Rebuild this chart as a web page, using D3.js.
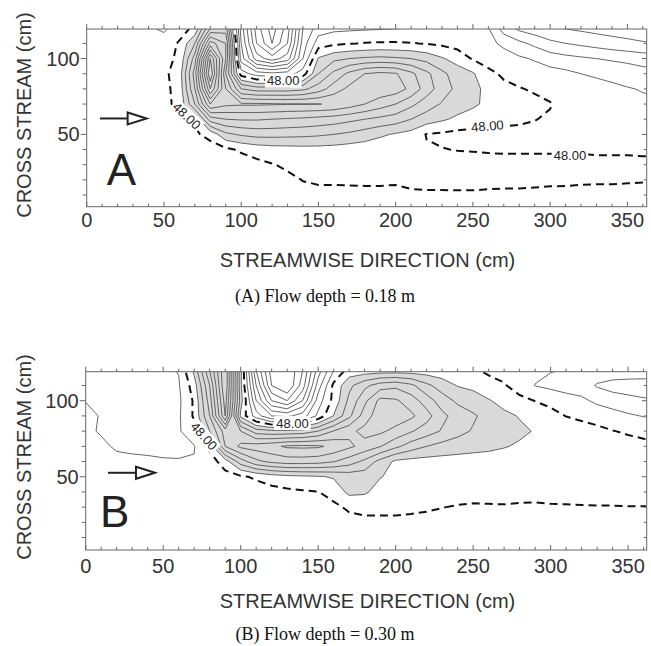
<!DOCTYPE html>
<html>
<head>
  <title>Streamwise contours</title>
  <meta charset="utf8">
  <style type="text/css">
    body { margin: 0; background: #fff; }
    svg { display: block; font-family: "Liberation Sans", Arial, sans-serif; }
    .title { font-size: 20px; fill: #333; }
    .tick-label { font-size: 20px; fill: #333; }
    .caption { font-family: "Liberation Serif", "Times New Roman", serif; font-size: 18px; fill: #111; }
    .shade { fill: #d9d9d9; stroke: none; }
    .iso { fill: none; stroke: #555; stroke-width: 0.9; }
    .iso-dash { fill: none; stroke: #111; stroke-width: 2; stroke-dasharray: 8 5; }
    .lbl { font-size: 13px; fill: #222; }
    .axis line { stroke: #666; }
    .frame { fill: none; stroke: #666; stroke-width: 1; }
    .letter { font-size: 44px; fill: #222; }
  </style>
</head>
<body>

<script src="https://d3js.org/d3.v7.min.js"></script>

<script type="text/javascript">

// sample grid: streamwise positions (cm) and cross-stream rows (cm, top row first)
var xCm = [0, 10, 20, 30, 40, 50, 60, 70, 80, 90, 100, 110, 120, 130, 140, 150, 160, 170, 180,
           190, 200, 210, 220, 230, 240, 250, 260, 270, 280, 290, 300, 310, 320, 330, 340, 350, 360, 370]
var yCm = [120, 110, 100, 90, 80, 70, 60, 50, 40, 30, 20, 10, 0]

var levels = [30, 32, 34, 36, 38, 40, 42, 44, 46, 48, 50, 52, 54, 56, 58, 60, 62, 64, 66, 68, 70]
var dashedLevel = 48
var shadeLevel = 50

var xTicks = [0, 50, 100, 150, 200, 250, 300, 350]
var yTicks = [50, 100]

// (A) flow depth 0.18 m, rows y = 120 ... 0
var gridA = [
  [47, 47, 47, 46.8, 46.3, 45.6, 47.2, 48.4, 56, 57, 41, 33, 29, 33, 42, 45, 45.5, 45.6, 45.7, 45.8, 45.9, 46.05, 46.4, 46.6, 46.5, 46.3, 46.1, 43, 41.5, 40.8, 40.2, 39.9, 39.6, 39.3, 39.1, 38.9, 38.7, 38.5],
  [47.2, 47.2, 47.2, 47.2, 47.1, 47.0, 48.2, 52, 63, 60, 42, 34, 30, 34, 43, 47, 47.6, 47.9, 48.1, 48.2, 48.2, 48.1, 47.9, 47.6, 47.2, 46.9, 46.5, 45.6, 44.5, 43.5, 42.5, 42, 41.6, 41.2, 40.8, 40.5, 40.2, 40],
  [47.3, 47.3, 47.3, 47.3, 47.3, 47.5, 48.3, 55, 70, 60, 43, 37, 35, 37, 44, 50.2, 51.5, 52, 52.3, 52.5, 52.3, 52, 51.3, 50.2, 49.2, 47.8, 47, 46.8, 46.3, 45.8, 45, 44.6, 44.3, 44, 43.7, 43.4, 43.1, 43],
  [47.4, 47.4, 47.4, 47.4, 47.4, 47.6, 48.9, 57, 72, 58, 47, 45, 44.5, 45, 47, 52, 54.5, 56.5, 58, 58.5, 58.2, 56.5, 54.5, 52.5, 51, 50.2, 48.6, 47.6, 47.3, 47, 46.8, 46.5, 46.0, 45.8, 45.6, 45.3, 44.8, 44.6],
  [47.5, 47.5, 47.5, 47.5, 47.5, 47.5, 48.7, 56, 68, 60, 54, 53, 53, 53, 53.5, 55, 57, 58.5, 59.2, 59.3, 59, 57.5, 55, 53, 51.5, 50.5, 49.5, 48.6, 48.1, 47.8, 47.4, 47.1, 46.8, 46.5, 46.3, 46.1, 45.9, 45.8],
  [47.5, 47.5, 47.5, 47.5, 47.5, 47.6, 48.4, 54, 62, 60.5, 60.3, 60.3, 60.2, 60.1, 60.1, 60.05, 59.8, 59, 58, 57, 56, 54.5, 53, 51.8, 51, 50.3, 49.6, 48.6, 48.3, 48.4, 48.1, 47.3, 47, 46.8, 46.6, 46.4, 46.3, 46.2],
  [47.4, 47.4, 47.4, 47.4, 47.4, 47.5, 47.5, 48.3, 55, 56, 56.2, 56.2, 56, 55.8, 55.6, 55.3, 55, 54.5, 54, 53.5, 53, 52, 51, 50.3, 49.6, 49.2, 48.9, 48.5, 48.3, 48.05, 47.8, 47.6, 47.4, 47.2, 47, 46.8, 46.6, 46.5],
  [47.3, 47.3, 47.3, 47.3, 47.3, 47.3, 47.4, 47.7, 48.6, 51.5, 52.3, 52.7, 52.7, 52.6, 52.5, 52.3, 52, 51.6, 51, 50.3, 49.8, 49.3, 47.9, 47.7, 47.4, 47.3, 47.3, 47.4, 47.5, 47.6, 47.6, 47.5, 47.4, 47.3, 47.2, 47.1, 47, 47],
  [47.2, 47.2, 47.2, 47.2, 47.2, 47.2, 47.2, 47.2, 47.2, 47.6, 48.3, 48.8, 49.1, 49.2, 49.3, 49.3, 49.2, 49, 48.9, 48.8, 48.6, 48.5, 48.2, 48.05, 47.95, 47.9, 47.85, 47.8, 47.8, 47.8, 47.8, 47.8, 47.8, 47.7, 47.7, 47.7, 47.6, 47.6],
  [47, 47, 47, 47, 47, 47, 47, 47, 47, 47, 47, 47.5, 47.9, 48.3, 48.6, 48.7, 48.6, 48.6, 48.6, 48.6, 48.6, 48.6, 48.6, 48.6, 48.6, 48.6, 48.5, 48.5, 48.5, 48.5, 48.5, 48.5, 48.5, 48.5, 48.5, 48.5, 48.5, 48.5],
  [46.8, 46.8, 46.8, 46.8, 46.8, 46.8, 46.8, 46.8, 46.8, 46.8, 46.8, 46.8, 46.8, 47.6, 48.05, 48.2, 48.2, 48.2, 48.2, 48.2, 48.15, 48.3, 48.4, 48.4, 48.45, 48.45, 48.4, 48.4, 48.4, 48.35, 48.3, 48.3, 48.25, 48.2, 48.2, 48.15, 48.1, 48.1],
  [46.8, 46.8, 46.8, 46.8, 46.8, 46.8, 46.8, 46.8, 46.8, 46.8, 46.8, 46.8, 46.8, 47.2, 47.5, 47.6, 47.6, 47.65, 47.7, 47.7, 47.7, 47.8, 47.8, 47.8, 47.8, 47.8, 47.75, 47.7, 47.7, 47.65, 47.6, 47.55, 47.5, 47.5, 47.5, 47.5, 47.5, 47.5],
  [46.8, 46.8, 46.8, 46.8, 46.8, 46.8, 46.8, 46.8, 46.8, 46.8, 46.8, 46.8, 46.8, 46.8, 46.8, 46.8, 46.8, 46.8, 46.8, 46.8, 46.8, 46.8, 46.8, 46.8, 46.8, 46.8, 46.8, 46.8, 46.8, 46.8, 46.8, 46.8, 46.8, 46.8, 46.8, 46.8, 46.8, 46.8]
]

// (B) flow depth 0.30 m, rows y = 120 ... 0
var gridB = [
  [45.5, 45.5, 45.5, 45.5, 45.5, 45.6, 46.1, 50.5, 58, 66, 50.5, 38, 31, 30, 34, 41, 46, 48.8, 48.8, 48.9, 48.9, 48.9, 48.9, 48.8, 48.6, 48.3, 47.6, 47.2, 46.8, 46.4, 46.1, 45.9, 45.5, 45.2, 45.2, 45.1, 45.0, 45.0],
  [45.4, 45.4, 45.4, 45.4, 45.4, 45.4, 45.8, 49, 56, 66, 50.5, 40, 32, 30, 35, 43, 48.5, 51.5, 53.5, 55, 55.5, 54.5, 52.5, 51, 49.9, 49.6, 48.8, 48.2, 47, 45.95, 45.5, 45.2, 45, 43.8, 43.3, 43.2, 43.2, 43.2],
  [45.95, 45.5, 45.4, 45.4, 45.4, 45.4, 45.6, 48.3, 55, 65, 51, 42, 36, 34, 38, 45, 48.6, 52.5, 55.5, 58.6, 58.3, 57, 55, 53, 51.6, 50.8, 50.15, 49.4, 48.6, 47.95, 47.5, 46.8, 46.4, 45.6, 44.9, 44.5, 44.2, 44.1],
  [46.4, 45.9, 45.6, 45.5, 45.5, 45.5, 45.7, 48.3, 54, 64, 49.5, 45, 42, 41.5, 43, 46.5, 50.1, 53.5, 57, 59.2, 59.2, 58.4, 56.8, 54.5, 53.2, 52.3, 51.2, 50.4, 49.9, 49.3, 48.6, 47.95, 47.5, 47.2, 46.9, 46.3, 45.9, 45.8],
  [46.3, 45.85, 45.7, 45.6, 45.6, 45.6, 45.8, 47.2, 52, 57, 56, 53, 52.5, 52.5, 52.8, 54, 56.1, 57.5, 58.6, 58.4, 57.4, 56.2, 55, 53.8, 52.7, 51.8, 51.1, 50.6, 50.3, 49.9, 49.6, 49.3, 49, 48.5, 48.05, 47.8, 47.7, 47.7],
  [46.5, 46.3, 45.8, 45.7, 45.7, 45.7, 45.8, 45.9, 48.5, 56, 58.5, 59, 59.5, 60.3, 60.4, 60.3, 59.5, 58.4, 57.3, 56.1, 54.5, 53, 52, 51.3, 50.9, 50.6, 50.4, 50.1, 49.8, 49.6, 49.4, 49.3, 49.1, 49, 48.8, 48.6, 48.3, 48.2],
  [46.6, 46.6, 46.4, 46.3, 46.2, 46.1, 46.05, 46.1, 47, 49, 53, 55.5, 56.5, 57, 57, 56.8, 56.1, 55, 53.5, 51.3, 49.6, 49.3, 49.2, 49.2, 49.2, 49.2, 49.2, 49.2, 49.2, 49.15, 49.1, 49, 48.9, 48.8, 48.7, 48.6, 48.5, 48.5],
  [46.6, 46.6, 46.6, 46.6, 46.6, 46.6, 46.7, 46.8, 47, 47.3, 47.7, 48.3, 49, 49.4, 49.6, 49.8, 50.2, 50.8, 50.9, 50.1, 49.5, 49.3, 49.2, 49.2, 49.2, 49.2, 49.1, 49.1, 49.1, 49.0, 49.0, 49, 48.9, 48.9, 48.8, 48.8, 48.7, 48.7],
  [46.7, 46.7, 46.7, 46.7, 46.7, 46.7, 46.7, 46.7, 46.7, 46.7, 46.7, 47, 47.3, 47.6, 47.8, 47.95, 48.7, 50.5, 50.3, 49.2, 48.9, 48.9, 48.9, 48.9, 48.9, 48.9, 48.9, 48.9, 48.9, 48.9, 48.9, 48.9, 48.9, 48.9, 48.9, 48.9, 48.9, 48.9],
  [46.8, 46.8, 46.8, 46.8, 46.8, 46.8, 46.8, 46.8, 46.8, 46.8, 46.8, 46.8, 46.8, 46.8, 46.8, 46.8, 47.6, 48.3, 48.5, 48.5, 48.5, 48.4, 48.3, 48.05, 47.85, 47.7, 47.75, 47.8, 47.65, 47.6, 47.75, 47.8, 47.85, 47.9, 47.9, 47.95, 47.95, 47.95],
  [46.8, 46.8, 46.8, 46.8, 46.8, 46.8, 46.8, 46.8, 46.8, 46.8, 46.8, 46.8, 46.8, 46.8, 46.8, 46.8, 47, 47.4, 47.6, 47.6, 47.6, 47.5, 47.3, 47.2, 47.2, 47.2, 47.2, 47.2, 47.2, 47.2, 47.2, 47.2, 47.2, 47.2, 47.2, 47.2, 47.2, 47.2],
  [46.8, 46.8, 46.8, 46.8, 46.8, 46.8, 46.8, 46.8, 46.8, 46.8, 46.8, 46.8, 46.8, 46.8, 46.8, 46.8, 46.8, 46.8, 46.8, 46.8, 46.8, 46.8, 46.8, 46.8, 46.8, 46.8, 46.8, 46.8, 46.8, 46.8, 46.8, 46.8, 46.8, 46.8, 46.8, 46.8, 46.8, 46.8],
  [46.7, 46.7, 46.7, 46.7, 46.7, 46.7, 46.7, 46.7, 46.7, 46.7, 46.7, 46.7, 46.7, 46.7, 46.7, 46.7, 46.7, 46.7, 46.7, 46.7, 46.7, 46.7, 46.7, 46.7, 46.7, 46.7, 46.7, 46.7, 46.7, 46.7, 46.7, 46.7, 46.7, 46.7, 46.7, 46.7, 46.7, 46.7]
]

// contour labels: [x cm, y cm, angle]
var labelsA = [[64.7, 62.2, 43], [127.2, 85.4, 0], [259.4, 55.5, -5], [312.8, 36.4, 0]]
var labelsB = [[76.3, 76.8, 48], [133.4, 85.3, 0]]

var panels = [
  { name: 'A', grid: gridA, labels: labelsA, caption: '(A) Flow depth = 0.18 m',
    left: 86.7, right: 646.7, top: 29, bottom: 206.7, xMax: 362.5, yMin: 2.3, yMax: 119.5,
    tickBase: 226.7, titleBase: 266.5, yTitleMid: 115, captionBase: 302,
    letterAt: [13, 16.6], arrow: [8.6, 38.8, 60.5] },
  { name: 'B', grid: gridB, labels: labelsB, caption: '(B) Flow depth = 0.30 m',
    left: 85.7, right: 646.7, top: 371.7, bottom: 550, xMax: 362, yMin: 1.8, yMax: 119.1,
    tickBase: 573.3, titleBase: 608, yTitleMid: 457, captionBase: 640,
    letterAt: [9.2, 16.9], arrow: [14.4, 44.7, 52.6] }
]

var svg = d3.select('body').append('svg')
    .attr('width', 651)
    .attr('height', 646)

panels.forEach(drawPanel)

function drawPanel(p) {
  var x = d3.scaleLinear().domain([0, p.xMax]).range([p.left, p.right])
  var y = d3.scaleLinear().domain([p.yMin, p.yMax]).range([p.bottom, p.top])

  var nx = xCm.length, ny = yCm.length
  // contour grid coordinates -> cm (grid values sit at index + 0.5)
  var gx = d3.scaleLinear().domain([0.5, nx - 0.5]).range([xCm[0], xCm[nx - 1]])
  var gy = d3.scaleLinear().domain([0.5, ny - 0.5]).range([yCm[0], yCm[ny - 1]])
  var path = d3.geoPath(d3.geoTransform({
    point: function(cx, cy) { this.stream.point(x(gx(cx)), y(gy(cy))) }
  }))

  var values = d3.merge(p.grid)
  var contours = d3.contours().size([nx, ny])

  svg.append('clipPath').attr('id', 'clip' + p.name)
    .append('rect')
    .attr('x', p.left).attr('y', p.top)
    .attr('width', p.right - p.left).attr('height', p.bottom - p.top)

  var plot = svg.append('g').attr('clip-path', 'url(#clip' + p.name + ')')

  plot.append('path')
    .attr('class', 'shade')
    .attr('d', path(contours.thresholds([shadeLevel])(values)[0]))

  plot.selectAll('path.line')
    .data(contours.thresholds(levels)(values))
    .enter()
    .append('path')
    .attr('class', function(d) { return 'line ' + (d.value === dashedLevel ? 'iso-dash' : 'iso') })
    .attr('d', path)

  // 48.00 labels with a white gap behind them
  var lbl = plot.selectAll('g.lbl-g')
    .data(p.labels)
    .enter()
    .append('g')
    .attr('class', 'lbl-g')
    .attr('transform', function(d) { return 'translate(' + x(d[0]) + ',' + y(d[1]) + ') rotate(' + d[2] + ')' })
  var rect = lbl.append('rect').attr('fill', '#fff')
  var txt = lbl.append('text')
    .attr('class', 'lbl')
    .attr('text-anchor', 'middle')
    .attr('dy', '0.35em')
    .text(dashedLevel.toFixed(2))
  lbl.each(function() {
    var g = d3.select(this)
    var w = g.select('text').node().getComputedTextLength() + 4
    g.select('rect').attr('x', -w / 2).attr('y', -7).attr('width', w).attr('height', 14)
  })

  // arrow and panel letter
  var ay = y(p.arrow[2]), ax0 = x(p.arrow[0]), ax1 = x(p.arrow[1])
  svg.append('line')
    .attr('x1', ax0).attr('x2', ax1 - 19).attr('y1', ay).attr('y2', ay)
    .attr('stroke', '#222').attr('stroke-width', 2)
  svg.append('path')
    .attr('d', 'M' + (ax1 - 19) + ',' + (ay - 6) + 'L' + ax1 + ',' + ay + 'L' + (ax1 - 19) + ',' + (ay + 6) + 'Z')
    .attr('fill', '#fff').attr('stroke', '#222').attr('stroke-width', 2)

  svg.append('text')
    .attr('class', 'letter')
    .attr('x', x(p.letterAt[0])).attr('y', y(p.letterAt[1]))
    .text(p.name)

  // ticks every 10 cm, longer at labelled values
  var xMinor = d3.range(0, p.xMax, 10)
  var yMinor = d3.range(10, p.yMax, 10)
  function tickLen(v, n) { return v % 50 === 0 ? n + 2 : n }

  var axes = svg.append('g').attr('class', 'axis')
  axes.selectAll('.xb').data(xMinor).enter().append('line')
    .attr('x1', x).attr('x2', x)
    .attr('y1', p.bottom).attr('y2', function(d) { return p.bottom - tickLen(d, 3) })
  axes.selectAll('.xt').data(xMinor).enter().append('line')
    .attr('x1', x).attr('x2', x)
    .attr('y1', p.top).attr('y2', function(d) { return p.top - tickLen(d, 3) })
  axes.selectAll('.yl').data(yMinor).enter().append('line')
    .attr('y1', y).attr('y2', y)
    .attr('x1', p.left).attr('x2', function(d) { return p.left - tickLen(d, 4) })
  axes.selectAll('.yr').data(yMinor).enter().append('line')
    .attr('y1', y).attr('y2', y)
    .attr('x1', p.right).attr('x2', function(d) { return p.right - tickLen(d, 3) })

  svg.append('rect')
    .attr('class', 'frame')
    .attr('x', p.left).attr('y', p.top)
    .attr('width', p.right - p.left).attr('height', p.bottom - p.top)

  svg.selectAll('.xl' + p.name).data(xTicks).enter().append('text')
    .attr('class', 'tick-label')
    .attr('x', x).attr('y', p.tickBase)
    .attr('text-anchor', 'middle')
    .text(function(d) { return d })

  svg.selectAll('.yl' + p.name).data(yTicks).enter().append('text')
    .attr('class', 'tick-label')
    .attr('x', p.left - 7).attr('y', y)
    .attr('dy', '0.35em')
    .attr('text-anchor', 'end')
    .text(function(d) { return d })

  svg.append('text')
    .attr('class', 'title')
    .attr('x', 367.5).attr('y', p.titleBase)
    .attr('text-anchor', 'middle')
    .text('STREAMWISE DIRECTION (cm)')

  svg.append('text')
    .attr('class', 'title')
    .attr('transform', 'translate(31,' + p.yTitleMid + ') rotate(-90)')
    .attr('text-anchor', 'middle')
    .text('CROSS STREAM (cm)')

  svg.append('text')
    .attr('class', 'caption')
    .attr('x', 325).attr('y', p.captionBase)
    .attr('text-anchor', 'middle')
    .text(p.caption)
}

</script>

</body>
</html>
